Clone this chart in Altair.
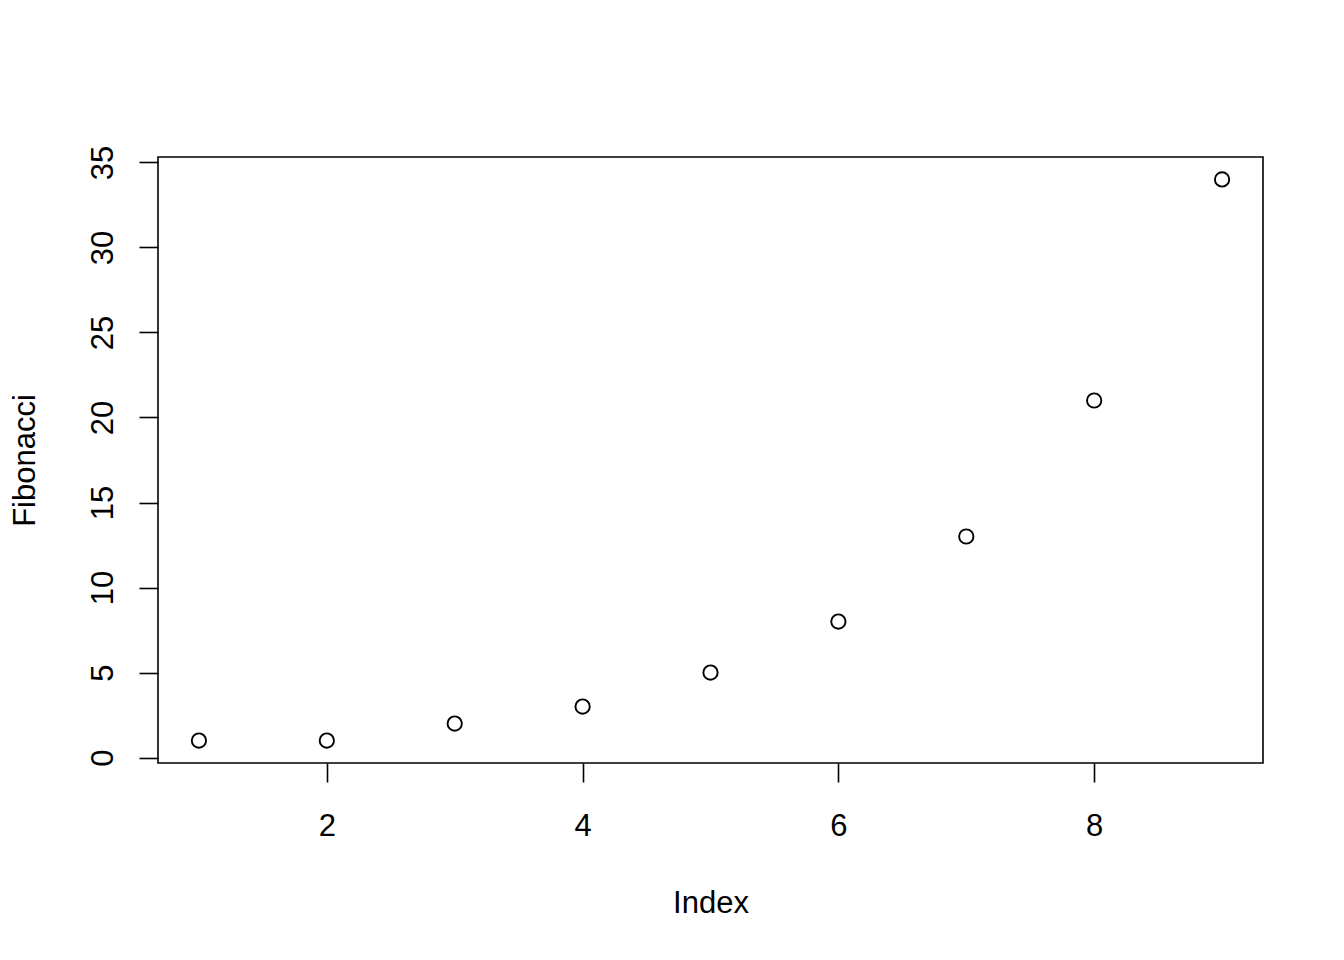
import altair as alt
import pandas as pd

index = [1, 2, 3, 4, 5, 6, 7, 8, 9]
fib = [1, 1, 2, 3, 5, 8, 13, 21, 34]
x_ticks = [2, 4, 6, 8]
y_ticks = [0, 5, 10, 15, 20, 25, 30, 35]

df = pd.DataFrame({"Index": index, "Fibonacci": fib})

FONT = "Liberation Sans"
FS = 31

chart = alt.Chart(df).mark_point(
    shape="circle", filled=False, color="black", size=205, strokeWidth=1.9, opacity=1
).encode(
    x=alt.X("Index:Q",
            scale=alt.Scale(domain=[0.68, 9.32], nice=False, zero=False),
            axis=alt.Axis(values=x_ticks, grid=False, domain=False,
                          tickSize=19, tickColor="black", tickWidth=1.6,
                          labelFont=FONT, labelFontSize=FS, labelColor="black",
                          labelBaseline="alphabetic", labelPadding=53,
                          labelFlush=False, labelOverlap=False,
                          title="Index", titleFont=FONT, titleFontSize=FS,
                          titleFontWeight="normal", titleColor="black",
                          titleBaseline="alphabetic", titleY=149)),
    y=alt.Y("Fibonacci:Q",
            scale=alt.Scale(domain=[-0.32, 35.32], nice=False, zero=False),
            axis=alt.Axis(values=y_ticks, grid=False, domain=False,
                          tickSize=19, tickColor="black", tickWidth=1.6,
                          labelFont=FONT, labelFontSize=FS, labelColor="black",
                          labelAngle=-90, labelAlign="center",
                          labelBaseline="alphabetic", labelPadding=27,
                          labelFlush=False, labelOverlap=False,
                          title="Fibonacci", titleFont=FONT, titleFontSize=FS,
                          titleFontWeight="normal", titleColor="black",
                          titleAngle=-90, titleBaseline="alphabetic",
                          titleAlign="center",
                          titleX=-124, titleY=303)),
).properties(
    width=1105, height=606,
    padding={"left": 150, "top": 149, "right": 73, "bottom": 181},
    autosize=alt.AutoSizeParams(type="none"),
    background="white",
).configure_view(stroke="black", strokeWidth=1.6)

chart.save("out.html", embed_options={"renderer": "svg", "actions": False})
